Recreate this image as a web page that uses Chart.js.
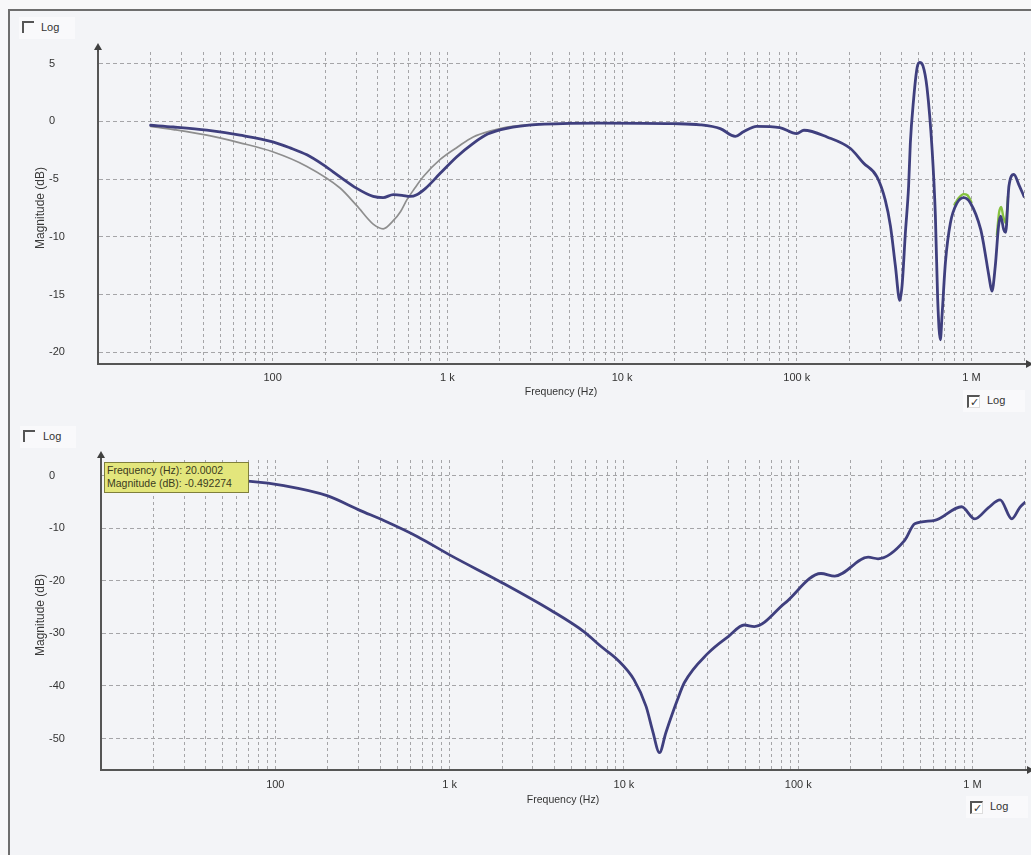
<!DOCTYPE html>
<html><head><meta charset="utf-8">
<script src="https://cdn.jsdelivr.net/npm/chart.js@4.4.1/dist/chart.umd.min.js"></script>
<style>
html,body{margin:0;padding:0;background:#f3f4f7;}
body{width:1031px;height:855px;position:relative;overflow:hidden;font-family:"Liberation Sans",Arial,sans-serif;}
#outer{position:absolute;left:0;top:0;width:1031px;height:9px;background:#f8f8f9;}
#outerL{position:absolute;left:0;top:0;width:8px;height:855px;background:#f8f8f9;}
#frame{position:absolute;left:8px;top:9px;width:1040px;height:900px;border-left:2px solid #6e6e6e;border-top:2px solid #6e6e6e;}
canvas{position:absolute;left:0;}
.logbox{position:absolute;height:22px;background:#f9f9fb;font-size:11px;color:#333;}
.logbox span{position:absolute;top:4px;}
.cb{position:absolute;width:10px;height:10px;border-top:2px solid #555;border-left:2px solid #555;}
.cb.on{background:#fff;border-right:1px solid #ddd;border-bottom:1px solid #ddd;font-size:11px;line-height:10px;text-align:center;color:#333;}
#tip{position:absolute;left:104px;top:462px;width:141px;height:28px;background:#e3e67c;border:1px solid #7f7f3c;font-size:10.5px;color:#3b3b1e;line-height:13px;padding:1px 0 0 2px;box-sizing:content-box;white-space:nowrap;}
</style></head>
<body>
<div id="outer"></div><div id="outerL"></div>
<div id="frame"></div>
<canvas id="c1" width="1031" height="420" style="top:0;width:1031px;height:420px"></canvas>
<canvas id="c2" width="1034" height="435" style="top:420px;width:1034px;height:435px"></canvas>
<div class="logbox" style="left:19px;top:17px;width:56px"><div class="cb" style="left:3px;top:4px"></div><span style="left:22px">Log</span></div>
<div class="logbox" style="left:963px;top:390px;width:62px"><div class="cb on" style="left:4px;top:5px">✓</div><span style="left:24px">Log</span></div>
<div class="logbox" style="left:20px;top:426px;width:56px"><div class="cb" style="left:3px;top:4px"></div><span style="left:23px">Log</span></div>
<div class="logbox" style="left:966px;top:796px;width:62px"><div class="cb on" style="left:4px;top:5px">✓</div><span style="left:24px">Log</span></div>
<div id="tip"></div>
<script>
// ---------- DATA ----------
// Top panel
const topBlueFreq = [20,27,42,65,100,126,157,195,243,303,376,429,490,550,612,668,750,910,1133,1406,1700,2190,3390,5000,7500,19600,28000,36500,44500,49500,59000,80000,100000,110000,149000,203000,241000,288000,321000,344000,367000,389000,401000,419000,437000,447000,466000,489000,505000,528000,557000,596000,622000,641000,664000,679000,710000,758000,828000,904000,987000,1130000,1180000,1260000,1310000,1370000,1430000,1470000,1530000,1570000,1640000,1750000,1870000,2000000];
const topBlueDb   = [-0.34,-0.49,-0.77,-1.2,-1.77,-2.3,-2.9,-3.77,-4.8,-5.8,-6.5,-6.6,-6.35,-6.4,-6.5,-6.35,-5.8,-4.5,-3.06,-1.9,-1.1,-0.6,-0.26,-0.18,-0.15,-0.2,-0.3,-0.63,-1.3,-0.9,-0.43,-0.54,-1.06,-0.77,-1.35,-2.35,-3.6,-4.8,-6.8,-9.07,-12.5,-15.5,-14.2,-9.6,-5.6,-1.9,1.8,4.66,5.1,4.8,2.9,-2.5,-8.2,-15.4,-18.9,-16.8,-12.2,-8.8,-7.06,-6.6,-7.06,-9.35,-10.8,-13.4,-14.7,-12.5,-9.07,-8.2,-9.35,-9.6,-5.6,-4.6,-5.5,-6.5];
const topGrayFreq = [20,27,42,65,100,157,243,303,376,429,490,540,586,650,727,910,1150,1406,1800,2190,3390,5000];
const topGrayDb   = [-0.43,-0.71,-1.2,-1.86,-2.63,-3.9,-5.77,-7.3,-8.9,-9.3,-8.6,-7.8,-6.8,-5.8,-4.8,-3.3,-2.2,-1.35,-0.8,-0.5,-0.25,-0.18];
const topGreenFreq = [800000,850000,900000,950000,1000000,null,1400000,1440000,1480000,1520000,1570000,1620000];
const topGreenDb   = [-7.2,-6.6,-6.3,-6.4,-7.0,null,-9.8,-7.9,-7.4,-8.2,-8.8,-6.5];
const topYTicks = [5,0,-5,-10,-15,-20];
// Bottom panel
const botFreq = [20.0002,40,72,112,198,308,419,651,1012,1963,3808,5913,7400,9180,11420,13400,14600,16000,17400,20300,22200,30300,40000,49000,56000,83500,135000,162000,252000,287000,408000,466000,607000,865000,1030000,1230000,1440000,1680000,1870000,2000000];
const botDb   = [-0.492274,-0.7,-1.07,-1.89,-3.79,-6.63,-8.52,-11.55,-15.15,-20.2,-25.6,-29.7,-32.5,-35.0,-38.8,-43.9,-48.5,-52.7,-48.9,-42.6,-39.4,-33.8,-30.5,-28.4,-28.7,-24.3,-18.6,-19.1,-15.5,-15.8,-12.3,-9.15,-8.5,-5.9,-8.2,-6.1,-4.6,-8.2,-6.0,-5.05];
const botYTicks = [0,-10,-20,-30,-40,-50];
// Frequency axis
const freqGridMultipliers = [1,2,3,4,5,6,7,8,9];
const freqDecades = [10,100,1000,10000,100000,1000000];
const freqLabels = {100:'100',1000:'1 k',10000:'10 k',100000:'100 k',1000000:'1 M'};
const freqMin = 10, freqMax = 2000000;

// ---------- BUILD ----------
const FONT = '"Liberation Sans", Arial, sans-serif';
const gridFreqs = [];
freqDecades.forEach(d => freqGridMultipliers.forEach(m => { const v = d*m; if (v > freqMin && v <= freqMax) gridFreqs.push(v); }));
function pts(fx, fy){ return fx.map((f,i) => f === null ? {x:null,y:null} : {x:f, y:fy[i]}); }

const arrowPlugin = {
  id:'arrows',
  afterDraw(chart){
    const {ctx, chartArea:a} = chart;
    ctx.save();
    ctx.strokeStyle = '#505050'; ctx.fillStyle = '#404040'; ctx.lineWidth = 2;
    ctx.beginPath(); ctx.moveTo(a.left, a.top); ctx.lineTo(a.left, a.top-3); ctx.stroke();
    ctx.beginPath(); ctx.moveTo(a.left, a.top-9); ctx.lineTo(a.left-4, a.top-2); ctx.lineTo(a.left+4, a.top-2); ctx.closePath(); ctx.fill();
    ctx.beginPath(); ctx.moveTo(a.right, a.bottom); ctx.lineTo(a.right+2, a.bottom); ctx.stroke();
    ctx.beginPath(); ctx.moveTo(a.right+9, a.bottom); ctx.lineTo(a.right+2, a.bottom-4); ctx.lineTo(a.right+2, a.bottom+4); ctx.closePath(); ctx.fill();
    ctx.restore();
  }
};

function makeChart(id, datasets, yMin, yMax, yTicks, cfg){
  return new Chart(document.getElementById(id), {
    type:'line',
    data:{datasets},
    options:{
      responsive:false, animation:false, events:[],
      layout:{padding:{left:33, top:cfg.top, right:cfg.right, bottom:0}},
      plugins:{legend:{display:false}, tooltip:{enabled:false}},
      elements:{point:{radius:0}, line:{tension:0.25, cubicInterpolationMode:'monotone', borderCapStyle:'round', borderJoinStyle:'round'}},
      scales:{
        x:{type:'logarithmic', min:freqMin, max:freqMax, position:'bottom',
           afterBuildTicks: s => { s.ticks = gridFreqs.map(v => ({value:v})); },
           afterFit: s => { s.height = cfg.xh; },
           grid:{color:'#a5a5a8', lineWidth:1, drawTicks:false},
           border:{color:'#555', width:2, dash:[3,3]},
           ticks:{autoSkip:false, maxRotation:0, padding:cfg.tp, color:'#333', font:{family:FONT, size:11},
                  callback: v => freqLabels[v] || ''},
           title:{display:true, text:'Frequency (Hz)', color:'#333', font:{family:FONT, size:10.5}, padding:{top:0, bottom:cfg.tb}}
        },
        y:{type:'linear', min:yMin, max:yMax, position:'left', weight:0,
           afterBuildTicks: s => { s.ticks = yTicks.map(v => ({value:v})); },
           afterFit: s => { s.width = cfg.yw; },
           grid:{color:'#a5a5a8', lineWidth:1, drawTicks:false},
           border:{color:'#555', width:2, dash:[4,3]},
           ticks:{crossAlign:'far', padding:0, color:'#333', font:{family:FONT, size:11}}
        },
        yt:{type:'linear', position:'left', weight:1, display:true,
            afterFit: s => { s.width = 16; },
            grid:{display:false}, border:{display:false}, ticks:{display:false},
            title:{display:true, text:'Magnitude (dB)', color:'#3a3a3a', font:{family:FONT, size:12}, padding:{top:0,bottom:0}}
        }
      }
    },
    plugins:[arrowPlugin]
  });
}

makeChart('c1', [
  {data:pts(topBlueFreq, topBlueDb), borderColor:'#3f3f7e', borderWidth:2.8, spanGaps:false},
  {data:pts(topGreenFreq, topGreenDb), borderColor:'#86c240', borderWidth:2.4, spanGaps:false},
  {data:pts(topGrayFreq, topGrayDb), borderColor:'#8e8e8e', borderWidth:1.7}
], -21, 6, topYTicks, {top:52, right:7, xh:56, tp:7, tb:22, yw:49});

makeChart('c2', [
  {data:pts(botFreq, botDb), borderColor:'#3f3f7e', borderWidth:2.8}
], -56, 3, botYTicks, {top:40, right:9, xh:85, tp:8, tb:49, yw:52});

document.getElementById('tip').innerHTML =
  'Frequency (Hz): ' + botFreq[0] + '<br>Magnitude (dB): ' + botDb[0];
</script>
</body></html>
